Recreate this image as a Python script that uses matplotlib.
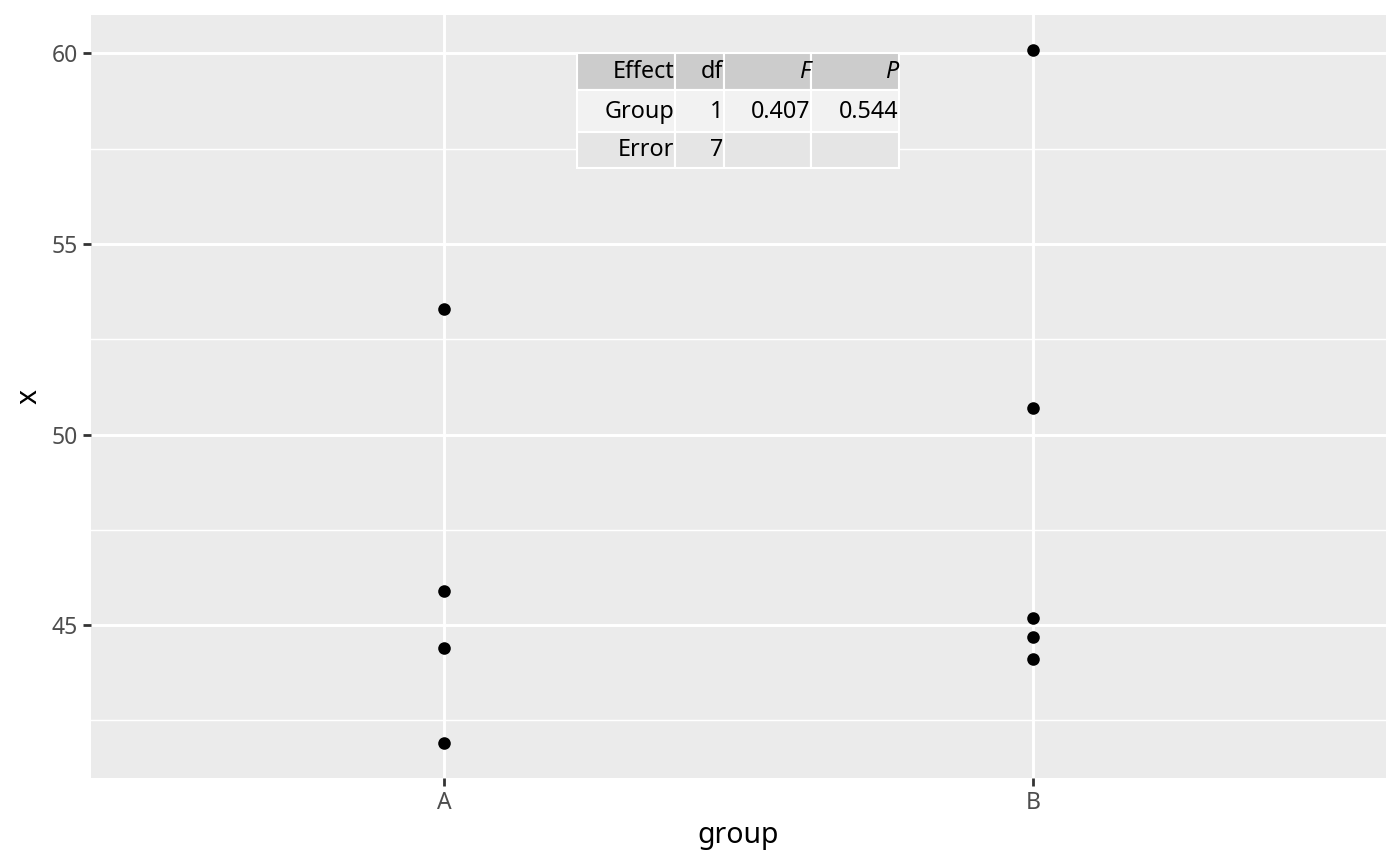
import matplotlib
matplotlib.use("Agg")
import matplotlib.pyplot as plt
from matplotlib.patches import Rectangle

plt.rcParams['font.family'] = ['Noto Sans', 'DejaVu Sans']

groups = ["A", "B"]
group_A = [53.3, 45.9, 44.4, 41.9]
group_B = [60.1, 50.7, 45.2, 44.7, 44.1]

tbl_header = ["Effect", "df", "F", "P"]
tbl_rows = [["Group", "1", "0.407", "0.544"],
            ["Error", "7", "", ""]]

W, H = 1400, 866
fig = plt.figure(figsize=(W / 100, H / 100), dpi=100)
L, R, T, B = 91, 1386, 15, 778
ax = fig.add_axes([L / W, 1 - B / H, (R - L) / W, (B - T) / H])
ax.set_facecolor("#EBEBEB")
for s in ax.spines.values():
    s.set_visible(False)

xs_A = [0] * len(group_A)
xs_B = [1] * len(group_B)
ax.set_xlim(-0.6, 1.6)
ymin = min(group_A + group_B)
ymax = max(group_A + group_B)
pad = (ymax - ymin) * 0.05
ax.set_ylim(ymin - pad, ymax + pad)

ax.set_yticks([45, 50, 55, 60])
ax.set_yticks([42.5, 47.5, 52.5, 57.5], minor=True)
ax.set_xticks([0, 1])
ax.set_xticklabels(groups)
ax.grid(which="major", color="white", linewidth=2.1)
ax.grid(which="minor", axis="y", color="white", linewidth=1.05)
ax.set_axisbelow(True)
ax.tick_params(which="major", length=5.5, width=2.0, color="#333333",
               labelcolor="#4D4D4D", labelsize=16.5, pad=4)
ax.tick_params(which="minor", length=0)

ax.scatter(xs_A + xs_B, group_A + group_B, s=82, color="black", zorder=3,
           linewidths=0)

ax.set_xlabel("group", fontsize=20.5, labelpad=4)
ax.set_ylabel("x", fontsize=20.5, labelpad=6)

# table (figure pixel coordinates)
col_edges = [(578, 674), (676, 723), (725, 810), (812, 898)]
row_edges = [(54, 89), (91, 131), (133, 167)]
row_fill = ["#CCCCCC", "#F2F2F2", "#E5E5E5"]
all_rows = [tbl_header] + tbl_rows
for ri, (y0, y1) in enumerate(row_edges):
    for ci, (x0, x1) in enumerate(col_edges):
        rect = Rectangle((x0 - 1, H - y1 - 1), x1 - x0 + 2, y1 - y0 + 2,
                         transform=None, facecolor=row_fill[ri],
                         edgecolor="white", linewidth=1.5, zorder=5)
        fig.add_artist(rect)
        txt = all_rows[ri][ci]
        style = "italic" if (ri == 0 and ci >= 2) else "normal"
        fig.text((x1 + 0.5) / W, 1 - ((y0 + y1) / 2 + 0.5) / H, txt,
                 ha="right", va="center", fontsize=16.8, fontstyle=style,
                 color="black", zorder=6)

fig.savefig("out.png", dpi=100)
